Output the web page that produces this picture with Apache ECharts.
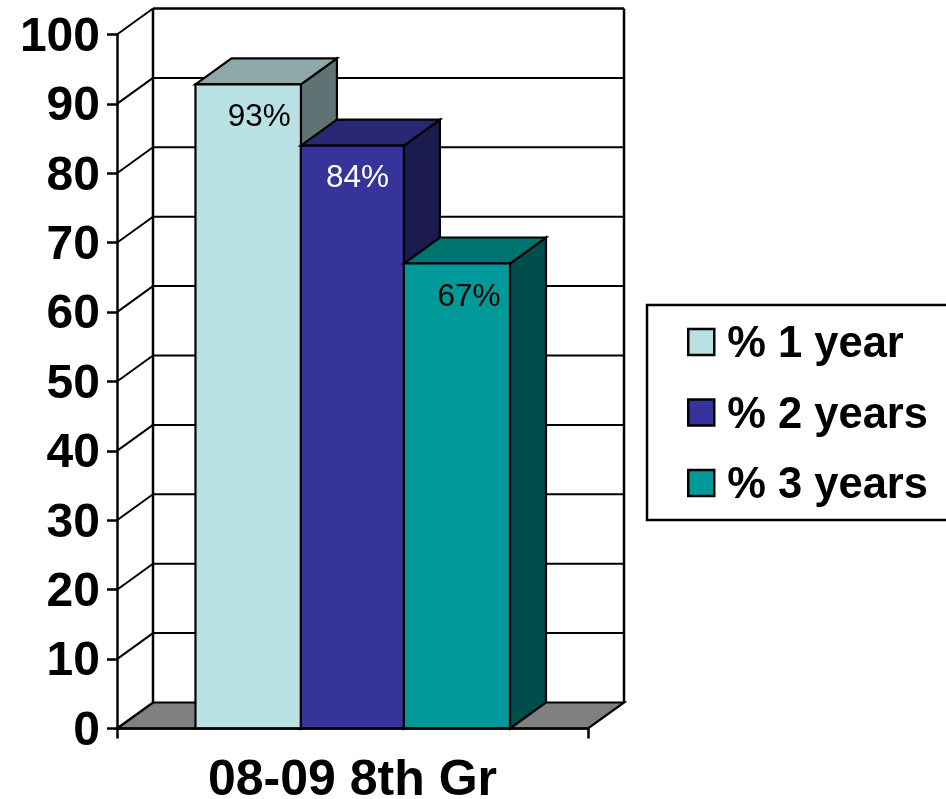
<!DOCTYPE html>
<html>
<head>
<meta charset="utf-8">
<style>html,body{margin:0;padding:0;background:#fff}#c{width:946px;height:799px}</style>
<script src="https://cdn.jsdelivr.net/npm/echarts@6/dist/echarts.min.js"></script>
</head>
<body>
<div id="c"></div>
<script>
const categories = ['08-09 8th Gr'];
const seriesNames = ['% 1 year', '% 2 years', '% 3 years'];
const seriesValues = [92.8, 84, 67];
const valueLabels = ['93%', '84%', '67%'];
const yTicks = [0, 10, 20, 30, 40, 50, 60, 70, 80, 90, 100];

const frontColors = ['#b9e0e3', '#36339b', '#009999'];
const topColors = ['#8fa9ab', '#292875', '#007370'];
const sideColors = ['#5f7375', '#1b1b4d', '#004d4d'];
const labelColors = ['#000', '#fff', '#000'];
const barSpans = [[0.1666, 0.3905], [0.3905, 0.6092], [0.6092, 0.8344]];
const labelShift = [11, 5, 12];
const labelDrop = [33, 33, 34];
const DX = 36, DY = -26, INK = '#000';
const FONT = '"Liberation Sans", Arial, sans-serif';

const chart = echarts.init(document.getElementById('c'));

function ln(x1, y1, x2, y2, w) {
  return { type: 'line', shape: { x1, y1, x2, y2 }, style: { stroke: INK, lineWidth: w || 2 } };
}
function poly(points, fill) {
  return { type: 'polygon', shape: { points }, style: { fill, stroke: INK, lineWidth: 2.2, lineJoin: 'miter' } };
}

const wallSeries = {
  type: 'custom', silent: true, z: 1,
  data: [[0, 0]],
  renderItem(params, api) {
    const c0 = api.coord([0, 0]), c1 = api.coord([0, 100]);
    const band = api.size([1, 0])[0];
    const l = c0[0] - band / 2, r = c0[0] + band / 2;
    return { type: 'group', children: [
      poly([[l, c0[1]], [l + DX, c0[1] + DY], [r + DX, c0[1] + DY], [r, c0[1]]], '#808080'),
      ln(l + DX, c0[1] + DY, l + DX, c1[1] + DY, 2.5),
      ln(r + DX, c0[1] + DY, r + DX, c1[1] + DY, 2.5)
    ]};
  }
};

const gridSeries = {
  type: 'custom', silent: true, z: 1,
  data: yTicks.map(t => [0, t]),
  renderItem(params, api) {
    const c = api.coord([0, api.value(1)]);
    const band = api.size([1, 0])[0];
    const l = c[0] - band / 2, r = c[0] + band / 2;
    const kids = [ln(l, c[1], l + DX, c[1] + DY)];
    if (api.value(1) > 0) kids.push(ln(l + DX, c[1] + DY, r + DX, c[1] + DY, api.value(1) === 100 ? 2.5 : 2));
    return { type: 'group', children: kids };
  }
};

const barSeries = seriesNames.map((name, i) => ({
  type: 'custom', name, z: 2,
  itemStyle: { color: frontColors[i] },
  data: [[0, seriesValues[i]]],
  renderItem(params, api) {
    const top = api.coord([0, api.value(1)]);
    const base = api.coord([0, 0]);
    const band = api.size([1, 0])[0];
    const l = top[0] - band / 2;
    const x0 = l + band * barSpans[i][0], x1 = l + band * barSpans[i][1];
    const yT = top[1], yB = base[1];
    return { type: 'group', children: [
      poly([[x1, yT], [x1 + DX, yT + DY], [x1 + DX, yB + DY], [x1, yB]], sideColors[i]),
      poly([[x0, yT], [x0 + DX, yT + DY], [x1 + DX, yT + DY], [x1, yT]], topColors[i]),
      poly([[x0, yT], [x1, yT], [x1, yB], [x0, yB]], frontColors[i]),
      { type: 'text', x: (x0 + x1) / 2 + labelShift[i], y: yT + labelDrop[i],
        style: { text: valueLabels[i], fill: labelColors[i], font: '31.5px ' + FONT, align: 'center', verticalAlign: 'middle' } }
    ]};
  }
}));

chart.setOption({
  animation: false,
  backgroundColor: '#fff',
  grid: { left: 117, right: 358, top: 34.5, bottom: 70.5, outerBoundsMode: 'none' },
  xAxis: {
    type: 'category', data: categories,
    axisLine: { lineStyle: { color: INK, width: 2.5 } },
    axisTick: { show: true, length: 10, alignWithLabel: false, lineStyle: { color: INK, width: 2.5 } },
    axisLabel: { color: INK, fontFamily: FONT, fontWeight: 'bold', fontSize: 50, margin: 28 },
    z: 3
  },
  yAxis: {
    type: 'value', min: 0, max: 100, interval: 10,
    axisLine: { show: true, lineStyle: { color: INK, width: 2.5 } },
    axisTick: { show: true, length: 10, lineStyle: { color: INK, width: 2.5 } },
    axisLabel: {
      margin: 17,
      formatter: v => '{t|' + v + '}',
      rich: { t: { color: INK, fontFamily: FONT, fontWeight: 'bold', fontSize: 48, lineHeight: 48, padding: [6, 0, 0, 0] } }
    },
    splitLine: { show: false }
  },
  legend: {
    orient: 'vertical', left: 647, top: 305,
    padding: [12, 40, 12, 40],
    itemWidth: 26, itemHeight: 26, itemGap: 20.5,
    selectedMode: false,
    borderColor: INK, borderWidth: 2.5, backgroundColor: '#fff',
    formatter: name => '{t|' + name + '}',
    textStyle: { color: INK, rich: { t: { color: INK, fontFamily: FONT, fontWeight: 'bold', fontSize: 43.5, lineHeight: 38, padding: [6, 0, 0, 8] } } },
    data: seriesNames.map((name, i) => ({
      name, icon: 'rect',
      itemStyle: { color: frontColors[i], borderColor: INK, borderWidth: 2.5 }
    }))
  },
  series: [wallSeries, gridSeries, ...barSeries]
});
</script>
</body>
</html>
